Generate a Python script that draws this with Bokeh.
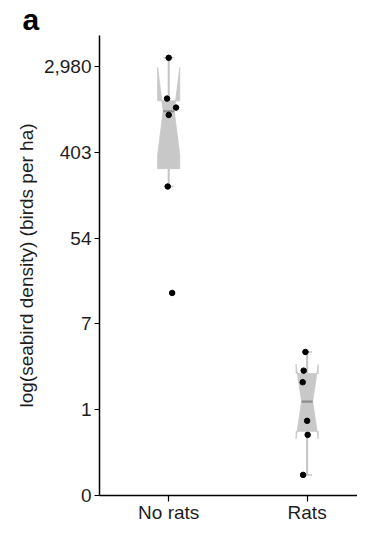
import numpy as np
from bokeh.plotting import figure
from bokeh.models import FixedTicker, Range1d
from bokeh.embed import file_html
from bokeh.resources import INLINE

# ---- data (log seabird density, birds per ha) ----
categories = ["No rats", "Rats"]
no_rats_log = [8.20, 7.25, 7.04, 6.87, 5.20, 2.72]
no_rats_jitter = [0.0, -0.012, 0.053, 0.0, -0.007, 0.025]
rats_log = [1.345, 0.91, 0.64, -0.26, -0.587, -1.52]
rats_jitter = [-0.012, -0.025, -0.032, 0.0, 0.004, -0.029]
tick_values = [-2, 0, 2, 4, 6, 8]
tick_labels = ["0", "1", "7", "54", "403", "2,980"]

groups = [(no_rats_log, no_rats_jitter), (rats_log, rats_jitter)]
cat_x = [1, 2]

FONT = "Liberation Sans"

p = figure(width=357, height=525, output_backend="svg", toolbar_location=None,
           x_range=Range1d(0.5, 2.364), y_range=Range1d(-2, 8.72),
           min_border_left=99, min_border_right=0, min_border_top=33, min_border_bottom=28,
           title="a")
p.outline_line_color = None
p.xgrid.visible = False
p.ygrid.visible = False
p.background_fill_color = "white"

# panel letter as title, shifted to the left edge
p.title.align = "left"
p.title.offset = -77
p.title.text_font = FONT
p.title.text_font_size = "30px"
p.title.text_font_style = "bold"
p.title.text_color = "black"
p.title.standoff = 0
p.title.text_line_height = 0.8

BOX_HW = 0.08
CAP_HW = 0.036
fill_col = "#c8c8c8"
whisk_col = "#c4c4c4"
med_col = "#8c8c8c"

for (vals, jit), cx in zip(groups, cat_x):
    v = np.array(vals, dtype=float)
    n = len(v)
    q1, med, q3 = np.percentile(v, [25, 50, 75])
    iqr = q3 - q1
    lo_f, hi_f = q1 - 1.5 * iqr, q3 + 1.5 * iqr
    inside = v[(v >= lo_f) & (v <= hi_f)]
    wmin, wmax = inside.min(), inside.max()
    nl = med - 1.58 * iqr / np.sqrt(n)
    nu = med + 1.58 * iqr / np.sqrt(n)
    xmin, xmax = cx - BOX_HW, cx + BOX_HW
    ind = BOX_HW / 2
    xs = [xmin, xmin, xmin + ind, xmin, xmin, xmax, xmax, xmax - ind, xmax, xmax]
    ys = [q1, nl, med, nu, q3, q3, nu, med, nl, q1]
    # whiskers
    p.segment(x0=[cx, cx], y0=[q3, q1], x1=[cx, cx], y1=[wmax, wmin],
              line_color=whisk_col, line_width=2)
    p.segment(x0=[cx - CAP_HW, cx - CAP_HW], y0=[wmax, wmin],
              x1=[cx + CAP_HW, cx + CAP_HW], y1=[wmax, wmin],
              line_color=whisk_col, line_width=1.5)
    p.patch(xs, ys, fill_color=fill_col, line_color=fill_col, line_width=0.8)
    p.segment(x0=[xmin + ind], y0=[med], x1=[xmax - ind], y1=[med],
              line_color=med_col, line_width=2.2)
    p.scatter(x=[cx + j for j in jit], y=vals, size=5.5, color="black")

# axes
p.xaxis.ticker = FixedTicker(ticks=cat_x)
p.xaxis.major_label_overrides = {c: lab for c, lab in zip(cat_x, categories)}
p.yaxis.ticker = FixedTicker(ticks=tick_values)
p.yaxis.major_label_overrides = {t: lab for t, lab in zip(tick_values, tick_labels)}
for ax in (p.xaxis, p.yaxis):
    ax.axis_line_color = "black"
    ax.axis_line_width = 1.5
    ax.major_tick_line_color = "black"
    ax.major_tick_line_width = 1.2
    ax.minor_tick_line_color = None
    ax.major_tick_in = 0
    ax.major_label_text_font = FONT
    ax.major_label_text_font_size = "19px"
    ax.major_label_text_color = "#1e1e1e"
p.xaxis.major_tick_out = 6
p.xaxis.major_label_standoff = 0
p.yaxis.major_tick_out = 5
p.yaxis.major_label_standoff = 3
p.yaxis.axis_label = "log(seabird density) (birds per ha)"
p.yaxis.axis_label_text_font = FONT
p.yaxis.axis_label_text_font_size = "19px"
p.yaxis.axis_label_text_font_style = "normal"
p.yaxis.axis_label_text_color = "#1e1e1e"
p.yaxis.axis_label_standoff = 4

open("out.html", "w").write(file_html(p, INLINE))
